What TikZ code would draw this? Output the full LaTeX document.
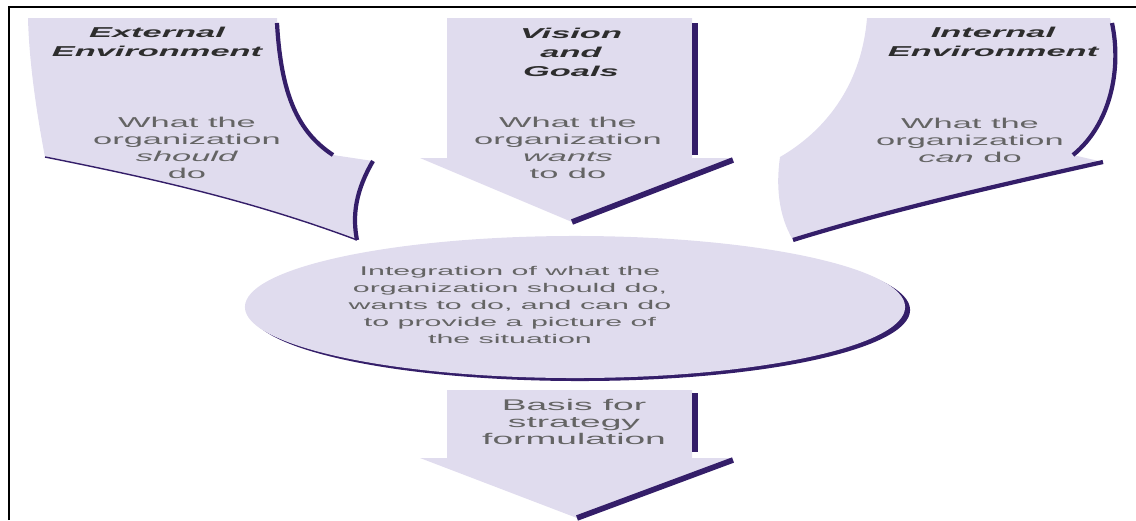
\documentclass[tikz,border=0pt]{standalone}
\usepackage{fontspec}
\setmainfont{Liberation Sans}[FakeStretch=2.4]
\usetikzlibrary{shapes.geometric}
\definecolor{lav}{RGB}{224,220,238}
\definecolor{ink}{RGB}{52,30,105}
\definecolor{txtgray}{RGB}{100,100,100}
\definecolor{ttlgray}{RGB}{45,45,45}
\begin{document}
\begin{tikzpicture}[x=0.025cm,y=-0.025cm,
    body/.style={text=txtgray,align=center,inner sep=0pt,font=\fontsize{10.2}{12.1}\selectfont},
    title/.style={text=ttlgray,align=center,inner sep=0pt,font=\fontsize{10.2}{13.5}\selectfont\bfseries\itshape},
    rim/.style={draw=ink,line width=3pt}]
  \useasboundingbox (0,0) rectangle (1136,520);
  \draw [line width=1.5pt] (9,520) -- (9,7) -- (1136,7);

  % external environment
  \fill [lav] (28,18) -- (277,18) .. controls (281,95) and (298,132) .. (333,155) -- (373,161)
    .. controls (356,190) and (352,215) .. (357,240) .. controls (250,200) and (150,178) .. (45,157)
    .. controls (36,110) and (29,60) .. (28,18) -- cycle;
  \draw [rim] (277,23) .. controls (281,95) and (298,132) .. (333,155);
  \draw [rim] (373,161) .. controls (356,190) and (352,215) .. (357,240);
  \draw [ink,line width=1pt] (45,157) .. controls (150,178) and (250,200) .. (357,240);

  % vision and goals
  \fill [lav] (447,18) -- (692,18) -- (692,158) -- (733,158) -- (572,222) -- (420,158) -- (447,158) -- cycle;
  \draw [ink,line width=4.5pt] (695,23) -- (695,155);
  \draw [ink,line width=4pt] (733,160) -- (572,222);

  % internal environment
  \fill [lav] (867,18) -- (1110,18) .. controls (1122,70) and (1110,125) .. (1073,155) -- (1103,162)
    .. controls (1000,185) and (890,210) .. (793,240) .. controls (778,215) and (776,185) .. (780,157)
    .. controls (830,128) and (862,80) .. (867,18) -- cycle;
  \draw [rim] (1112,23) .. controls (1122,70) and (1110,125) .. (1073,155);
  \draw [rim] (1103,162) .. controls (1000,185) and (890,210) .. (793,240);

  % integration
  \node [ellipse,fill=ink,minimum width=16.5cm,minimum height=3.55cm,inner sep=0pt] at (580,310) {};
  \node [ellipse,fill=lav,minimum width=16.5cm,minimum height=3.55cm,inner sep=0pt] (integ) at (575,307) {};

  % basis
  \fill [lav] (447,390) -- (692,390) -- (692,458) -- (733,458) -- (577,518) -- (420,458) -- (447,458) -- cycle;
  \draw [ink,line width=4.5pt] (695,393) -- (695,452);
  \draw [ink,line width=4pt] (733,460) -- (577,518);

  \node [title] (exttitle) at (157,42) {External\\Environment};
  \node [body] (ext) at (187,148) {What the\\organization\\\textit{should}\\do};
  \node [title] (vistitle) at (571,52) {Vision\\and\\Goals};
  \node [body] (vis) at (568,148) {What the\\organization\\\textit{wants}\\to do};
  \node [title] (inttitle) at (993,42) {Internal\\Environment};
  \node [body] (int) at (970,140) {What the\\organization\\\textit{can} do};
  \node [body,font=\fontsize{9}{12}\selectfont] (integtext) at (510,305) {Integration of what the\\organization should do,\\wants to do, and can do\\to provide a picture of\\the situation};
  \node [body,font=\fontsize{11}{11.9}\selectfont] (basis) at (574,422) {Basis for\\strategy\\formulation};
\end{tikzpicture}
\end{document}
